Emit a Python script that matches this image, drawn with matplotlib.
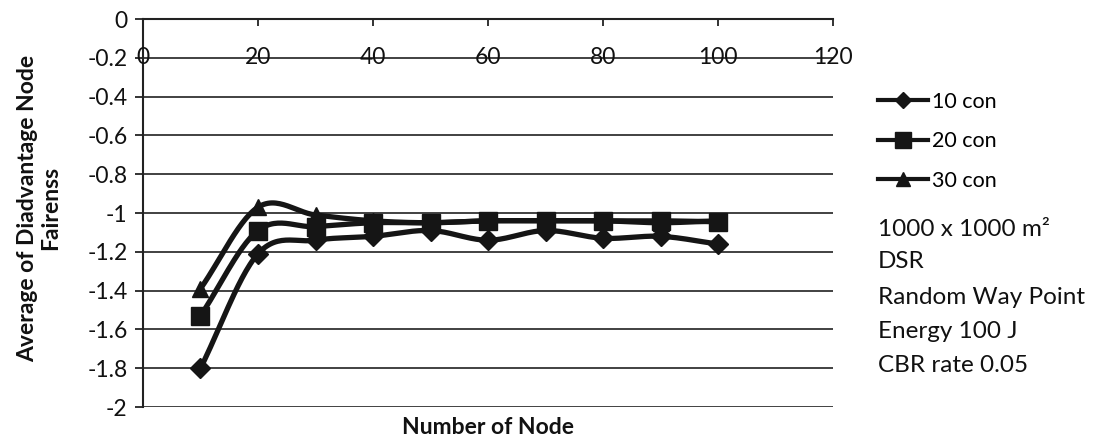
import numpy as np
import matplotlib
matplotlib.use("Agg")
import matplotlib.pyplot as plt
from matplotlib.lines import Line2D

plt.rcParams['font.family'] = ['Lato', 'DejaVu Sans']

nodes = [10, 20, 30, 40, 50, 60, 70, 80, 90, 100]
con10 = [-1.80, -1.21, -1.14, -1.12, -1.09, -1.14, -1.09, -1.13, -1.12, -1.16]
con20 = [-1.53, -1.09, -1.07, -1.05, -1.05, -1.04, -1.04, -1.04, -1.04, -1.045]
con30 = [-1.39, -0.97, -1.01, -1.04, -1.05, -1.04, -1.04, -1.04, -1.05, -1.04]
series_labels = ["10 con", "20 con", "30 con"]
x_ticks = [0, 20, 40, 60, 80, 100, 120]
y_ticks = [0, -0.2, -0.4, -0.6, -0.8, -1, -1.2, -1.4, -1.6, -1.8, -2]
notes = ["1000 x 1000 m²", "DSR", "Random Way Point", "Energy 100 J", "CBR rate 0.05"]


def smooth(xs, ys, n=30):
    """Catmull-Rom curve through the given points."""
    xs = np.asarray(xs, float)
    ys = np.asarray(ys, float)
    px = np.concatenate([[2 * xs[0] - xs[1]], xs, [2 * xs[-1] - xs[-2]]])
    py = np.concatenate([[2 * ys[0] - ys[1]], ys, [2 * ys[-1] - ys[-2]]])
    t = np.linspace(0, 1, n)[:, None]
    out_x, out_y = [], []
    for i in range(1, len(px) - 2):
        for p, out in ((px, out_x), (py, out_y)):
            p0, p1, p2, p3 = p[i - 1], p[i], p[i + 1], p[i + 2]
            seg = 0.5 * ((2 * p1) + (-p0 + p2) * t
                         + (2 * p0 - 5 * p1 + 4 * p2 - p3) * t ** 2
                         + (-p0 + 3 * p1 - 3 * p2 + p3) * t ** 3)
            out.append(seg.ravel())
    return np.concatenate(out_x), np.concatenate(out_y)


W, H = 1108, 442
fig = plt.figure(figsize=(W / 100, H / 100), dpi=100)
ax = fig.add_axes([0.129, 0.079, 0.623, 0.878])

ax.set_xlim(0, 120)
ax.set_ylim(-2, 0)

# horizontal gridlines
for yv in y_ticks[1:]:
    ax.axhline(yv, color="#333333", lw=1.3, zorder=1)

styles = [("D", 10), ("s", 13), ("^", 12)]
for ys, (mk, ms) in zip([con10, con20, con30], styles):
    sx, sy = smooth(nodes, ys)
    ax.plot(sx, sy, color="#151515", lw=3.8, zorder=3, solid_capstyle="round")
    ax.plot(nodes, ys, linestyle="none", marker=mk, ms=ms, color="#151515", zorder=4)

# spines: category axis crosses at 0 (top), value axis at the left
for s in ("right", "bottom"):
    ax.spines[s].set_visible(False)
for s in ("top", "left"):
    ax.spines[s].set_color("#222222")
    ax.spines[s].set_linewidth(1.5)

ax.set_yticks(y_ticks)
ax.set_yticklabels([f"{v:g}" for v in y_ticks], fontsize=16.5)
ax.tick_params(axis="y", direction="out", length=6, width=1.2, pad=5, colors="#111111")

ax.set_xticks(x_ticks)
ax.tick_params(axis="x", top=True, bottom=False, labeltop=False, labelbottom=False,
               direction="in", length=5, width=1.2, colors="#111111")
for xv in x_ticks:
    ax.text(xv, -0.2, f"{xv}", ha="center", va="center", fontsize=16.5, color="#111111", zorder=5)

fig.text(39 / W, 1 - 208 / H, "Average of Diadvantage Node\nFairenss", fontsize=16.5,
         fontweight="bold", rotation=90, ha="center", va="center", linespacing=1.12,
         multialignment="center", color="#111111")
fig.text(488 / W, 1 - 428 / H, "Number of Node", fontsize=16.5, fontweight="bold",
         ha="center", va="center", color="#111111")

handles = [Line2D([0], [0], color="#151515", lw=3, marker=mk, ms=ms * 0.85)
           for mk, ms in styles]
fig.legend(handles, series_labels, loc="upper left", bbox_to_anchor=(878 / W, 1 - 92 / H),
           frameon=False, fontsize=15.5, handlelength=2.3, labelspacing=0.9,
           handletextpad=0.2, borderaxespad=0, borderpad=0)

note_y = [229, 262, 297, 331, 365]
for yy, note in zip(note_y, notes):
    fig.text(878 / W, 1 - yy / H, note, fontsize=17.5, ha="left", va="center", color="#111111")

fig.savefig("out.png", dpi=100)
